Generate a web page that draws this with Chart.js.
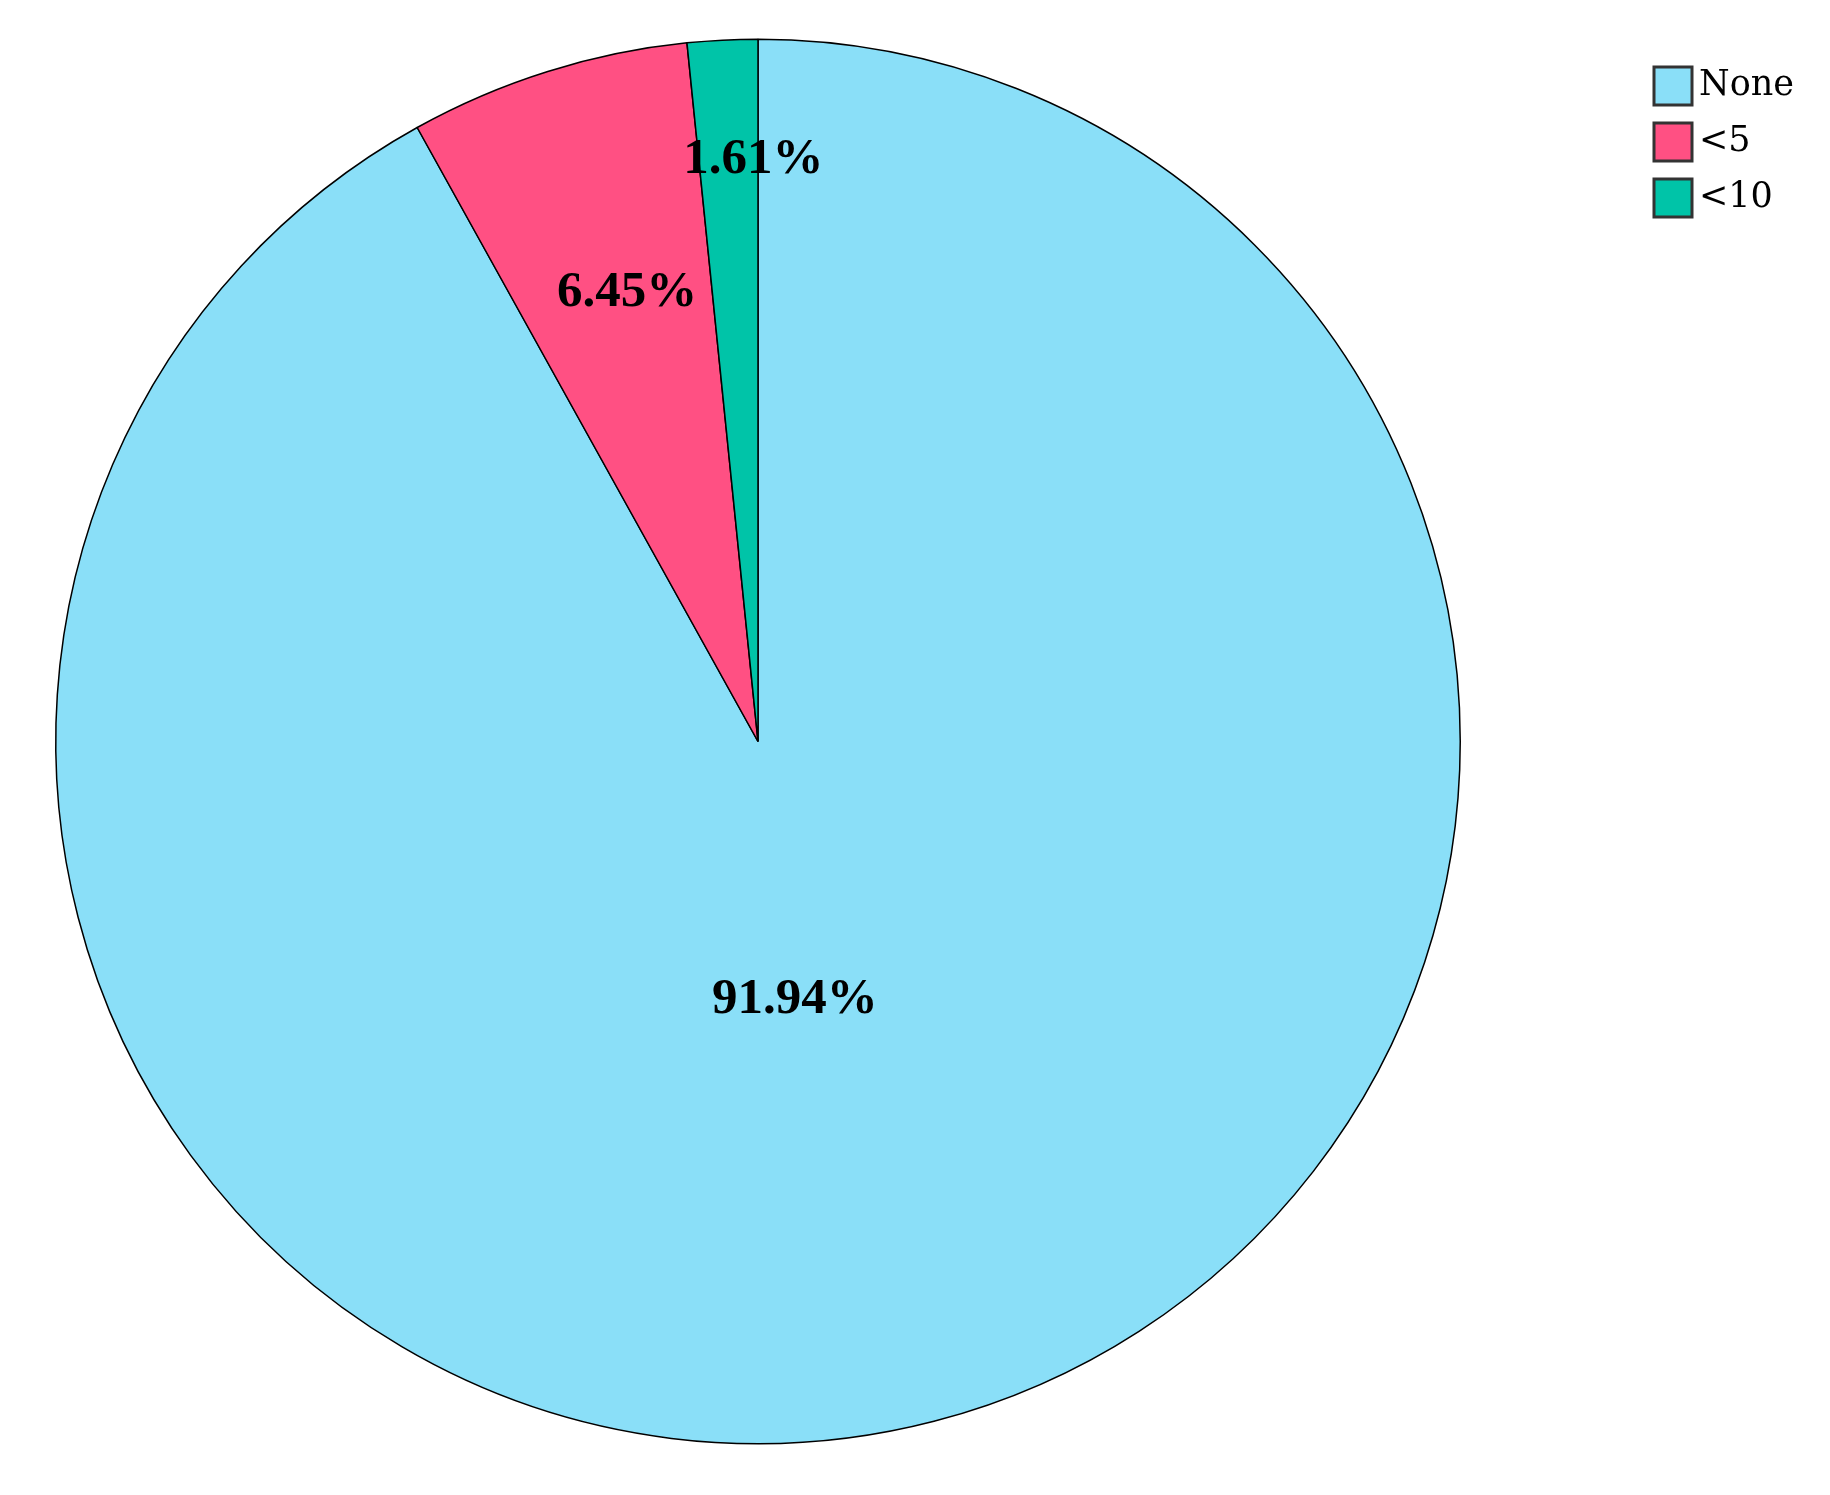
<!DOCTYPE html>
<html>
<head>
<meta charset="utf-8">
<script src="https://cdn.jsdelivr.net/npm/chart.js@4.4.1/dist/chart.umd.min.js"></script>
<style>
  html, body { margin: 0; padding: 0; background: #fff; }
  #wrap { width: 1830px; height: 1495px; }
</style>
</head>
<body>
<div id="wrap"><canvas id="pie"></canvas></div>
<script>
// data (counts out of 62)
const categories = ['None', '<5', '<10'];
const counts = [57, 4, 1];
const percentLabels = ['91.94%', '6.45%', '1.61%'];
const sliceColors = ['#8ADFF8', '#FF5083', '#00C4A8'];

// percentage text inside each slice
const sliceLabels = {
  id: 'sliceLabels',
  afterDatasetsDraw(chart) {
    const ctx = chart.ctx;
    const arcs = chart.getDatasetMeta(0).data;
    const place = [
      { r: 0.38, dx: -30 }, // None
      { r: 0.67, dx: 10 },  // <5
      { r: 0.83, dx: 25 },  // <10
    ];
    ctx.save();
    ctx.font = 'bold 51px "Liberation Serif", serif';
    ctx.fillStyle = '#000';
    ctx.textAlign = 'center';
    ctx.textBaseline = 'middle';
    arcs.forEach((arc, i) => {
      const { x, y, startAngle, endAngle, outerRadius } = arc.getProps(['x', 'y', 'startAngle', 'endAngle', 'outerRadius'], true);
      const mid = (startAngle + endAngle) / 2;
      const d = outerRadius * place[i].r;
      ctx.fillText(percentLabels[i], x + Math.cos(mid) * d + place[i].dx, y + Math.sin(mid) * d);
    });
    ctx.restore();
  },
};

// legend in the top right corner
const boxLegend = {
  id: 'boxLegend',
  afterDraw(chart) {
    const ctx = chart.ctx;
    ctx.save();
    ctx.font = '35px "DejaVu Serif", serif';
    ctx.textBaseline = 'middle';
    categories.forEach((name, i) => {
      const top = 67 + i * 56;
      ctx.fillStyle = sliceColors[i];
      ctx.fillRect(1654, top, 38, 38);
      ctx.lineWidth = 3;
      ctx.strokeStyle = '#333';
      ctx.strokeRect(1654, top, 38, 38);
      ctx.fillStyle = '#000';
      ctx.fillText(name, 1699, top + 19);
    });
    ctx.restore();
  },
};

new Chart(document.getElementById('pie'), {
  type: 'pie',
  data: {
    labels: categories,
    datasets: [{
      data: counts,
      backgroundColor: sliceColors,
      borderColor: '#000',
      borderWidth: 1.5,
    }],
  },
  options: {
    responsive: true,
    maintainAspectRatio: false,
    animation: false,
    layout: { padding: { left: 55, right: 369, top: 37, bottom: 49 } },
    plugins: {
      legend: { display: false },
      tooltip: { enabled: false },
    },
  },
  plugins: [sliceLabels, boxLegend],
});
</script>
</body>
</html>
